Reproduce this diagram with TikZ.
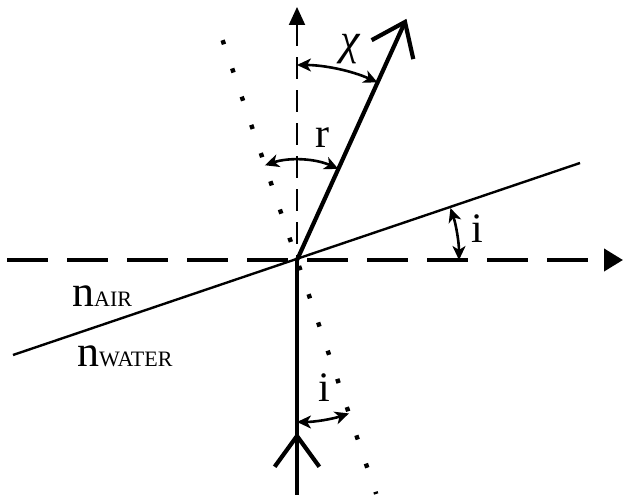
\documentclass[tikz,border=0pt]{standalone}
\usepackage{fontspec}
\setmainfont{Liberation Serif}
\usetikzlibrary{arrows.meta,calc}
\begin{document}
\begin{tikzpicture}[x=1pt,y=1pt,
  axisline/.style={line width=4pt, dash pattern=on 41pt off 19pt},
  normline/.style={line width=2pt, dash pattern=on 22pt off 11pt},
  ray/.style={line width=4.2pt},
  surface/.style={line width=2.4pt},
  dotline/.style={line width=4.4pt, dash pattern=on 4.4pt off 25.4pt},
  arctip/.tip={Stealth[length=14pt,width=13pt,inset=4pt]},
  anglearc/.style={line width=2.6pt, arctip-arctip},
  lbl/.style={inner sep=0pt, font=\fontsize{42}{42}\selectfont},
  medium/.style={inner sep=0pt, anchor=base west},
]
\useasboundingbox (0,0) rectangle (624,497);
% key points
\coordinate (O) at (297,237);
\coordinate (HL) at (7,237);
\coordinate (HR) at (623,237);
\coordinate (NT) at (297,490);
\coordinate (B) at (297,2);
\coordinate (C) at (297,61);
\coordinate (T) at (405,475);
\coordinate (SL) at (13,142);
\coordinate (SR) at (580,334);
\coordinate (DT) at ($(O)+(108.7:232.1)$);
\coordinate (DB) at ($(O)+(-71.3:247)$);
% horizontal dashed axis
\draw[axisline, -{Triangle[length=19pt,width=22pt]}] (HL) -- (HR);
% vertical dashed normal
\draw[normline, {Triangle[length=18pt,width=16pt]}-] (NT) -- (O);
% tilted surface
\draw[surface] (SL) -- (SR);
% dotted normal to the surface
\draw[dotline] (DT) -- (DB);
% incident ray
\draw[ray] (B) -- (O);
\draw[ray, line join=miter] ($(C)!38pt!36:(B)$) -- (C) -- ($(C)!38pt!-36:(B)$);
% refracted ray
\draw[ray] (O) -- (T);
\draw[ray, line join=miter] ($(T)!38pt!37:(O)$) -- (T) -- ($(T)!38pt!-37:(O)$);
% angle arcs
\coordinate (chiA) at ($(O)+(90:195)$);
\coordinate (rA) at ($(O)+(108.7:100)$);
\coordinate (iA) at ($(O)+(18.7:162)$);
\coordinate (jA) at ($(O)+(270:162)$);
\draw[anglearc] (chiA) arc[start angle=90, end angle=65.6, radius=195];
\draw[anglearc] (rA) arc[start angle=108.7, end angle=65.6, radius=100];
\draw[anglearc] (iA) arc[start angle=18.7, end angle=0, radius=162];
\draw[anglearc] (jA) arc[start angle=270, end angle=288.7, radius=162];
% labels
\node[lbl, font=\fontsize{44}{44}\selectfont\itshape] (chi) at (350,448) {χ};
\node[lbl] (r) at (322,359) {r};
\node[lbl] (i1) at (477,268) {i};
\node[lbl] (i2) at (324,109.5) {i};
\node[medium] (nair) at (72,190) {{\fontsize{44}{44}\selectfont n}{\fontsize{22}{22}\selectfont AIR}};
\node[medium] (nwater) at (77,130) {{\fontsize{44}{44}\selectfont n}{\fontsize{22}{22}\selectfont WATER}};
\end{tikzpicture}
\end{document}
